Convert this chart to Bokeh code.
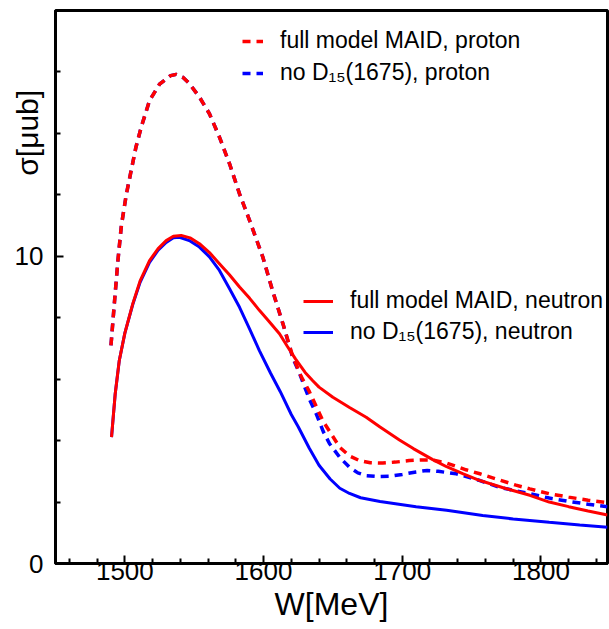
import math
from bokeh.plotting import figure
from bokeh.models import FixedTicker, Legend, LegendItem, Range1d
from bokeh.embed import file_html
from bokeh.resources import INLINE

# ---- data ----
w_proton_full = [1490, 1492.5, 1495, 1497.5, 1501, 1504.6, 1508, 1511.8, 1517.8, 1525, 1533, 1537,
                 1542, 1546.6, 1553.8, 1561, 1568.2, 1575.5, 1582.7, 1589.9, 1599.5, 1606.7, 1614,
                 1621, 1627, 1633, 1642.7, 1654.8, 1662, 1669.2, 1677, 1686, 1695, 1705, 1714, 1722,
                 1732, 1746, 1756, 1770, 1782, 1792, 1806, 1820, 1834, 1848]
s_proton_full = [7.10, 8.5, 9.86, 11.0, 12.0, 12.8, 13.55, 14.2, 15.07, 15.6, 15.88, 15.92,
                 15.82, 15.62, 15.18, 14.64, 13.88, 13.01, 12.03, 11.17, 9.97, 8.85, 7.8,
                 6.75, 6.1, 5.6, 4.65, 3.79, 3.5, 3.35, 3.28, 3.27, 3.30, 3.35, 3.37, 3.37,
                 3.27, 3.05, 2.92, 2.72, 2.55, 2.43, 2.27, 2.16, 2.06, 1.98]

w_proton_noD15 = [1490, 1492.5, 1495, 1497.5, 1501, 1504.6, 1508, 1511.8, 1517.8, 1525, 1533, 1537,
                  1542, 1546.6, 1553.8, 1561, 1568.2, 1575.5, 1582.7, 1589.9, 1599.5, 1606.7, 1614,
                  1621, 1626, 1633, 1638, 1643, 1647.6, 1655, 1662, 1668, 1674, 1683, 1691, 1700,
                  1710, 1718, 1726, 1739, 1756, 1770, 1792, 1806, 1820, 1834, 1848]
s_proton_noD15 = [7.10, 8.5, 9.86, 11.0, 12.0, 12.8, 13.55, 14.2, 15.07, 15.6, 15.88, 15.92,
                  15.82, 15.62, 15.18, 14.64, 13.88, 13.01, 12.03, 11.17, 9.97, 8.85, 7.8,
                  6.7, 6.18, 5.35, 4.87, 4.3, 3.90, 3.45, 3.13, 2.95, 2.86, 2.83, 2.84, 2.9,
                  2.98, 3.03, 3.0, 2.92, 2.70, 2.48, 2.27, 2.13, 2.02, 1.93, 1.85]

w_neutron_full = [1490.4, 1493, 1496, 1500, 1505.7, 1511, 1517.8, 1524, 1529.8, 1535, 1540.6, 1547,
                  1553.8, 1561, 1568.2, 1575.4, 1582.7, 1590, 1597, 1604, 1611.5, 1617, 1623, 1630,
                  1635.5, 1640, 1650, 1662, 1674, 1684, 1698, 1708, 1722, 1732, 1744, 1756, 1774,
                  1792, 1806, 1820, 1834, 1848]
s_neutron_full = [4.11, 5.5, 6.61, 7.5, 8.45, 9.2, 9.86, 10.25, 10.51, 10.65, 10.68, 10.6,
                  10.41, 10.12, 9.76, 9.4, 9.0, 8.63, 8.24, 7.88, 7.48, 7.08, 6.66, 6.22,
                  5.95, 5.74, 5.41, 5.08, 4.76, 4.44, 4.02, 3.74, 3.38, 3.15, 2.92, 2.70, 2.45,
                  2.22, 2.0, 1.85, 1.71, 1.58]

w_neutron_noD15 = [1490.4, 1493, 1496, 1500, 1505.7, 1511, 1517.8, 1524, 1529.8, 1535, 1539.4, 1547,
                   1553.8, 1561, 1568.2, 1575.4, 1582.7, 1590, 1597, 1605, 1612, 1620, 1625, 1633,
                   1640, 1648, 1655, 1662, 1670, 1684, 1710, 1732, 1758, 1780, 1806, 1828, 1848]
s_neutron_noD15 = [4.11, 5.5, 6.61, 7.5, 8.43, 9.15, 9.8, 10.2, 10.45, 10.6, 10.62, 10.5,
                   10.30, 9.98, 9.54, 8.95, 8.34, 7.63, 6.93, 6.2, 5.6, 4.85, 4.45, 3.75,
                   3.2, 2.75, 2.45, 2.28, 2.14, 2.02, 1.85, 1.73, 1.56, 1.45, 1.34, 1.25, 1.18]

x_major_ticks = [1500, 1600, 1700, 1800]
x_minor_ticks = [1460, 1480, 1520, 1540, 1560, 1580, 1620, 1640, 1660, 1680,
                 1720, 1740, 1760, 1780, 1820, 1840]
y_major_ticks = [0, 10]
y_minor_ticks = [2, 4, 6, 8, 12, 14, 16]

labels_proton = ["full model MAID, proton", "no D\u2081\u2085(1675), proton"]
labels_neutron = ["full model MAID, neutron", "no D\u2081\u2085(1675), neutron"]
x_title = "W[MeV]"
y_title = "\u03c3[\u03bcub]"

FONT = "Liberation Sans"
RED = "#ff0000"
BLUE = "#0000ff"

p = figure(width=609, height=629, output_backend="svg", toolbar_location=None,
           x_range=Range1d(1450, 1848), y_range=Range1d(0, 18),
           min_border_left=55, min_border_right=2, min_border_top=10, min_border_bottom=66,
           background_fill_color="white", border_fill_color="white")

p.xgrid.visible = False
p.ygrid.visible = False
p.outline_line_color = "black"
p.outline_line_width = 3

for ax in (p.xaxis[0], p.yaxis[0]):
    ax.axis_line_width = 3
    ax.axis_line_color = "black"
    ax.major_tick_in = 8
    ax.major_tick_out = 0
    ax.minor_tick_in = 5
    ax.minor_tick_out = 0
    ax.major_tick_line_width = 2
    ax.minor_tick_line_width = 2
    ax.major_tick_line_color = "black"
    ax.minor_tick_line_color = "black"
    ax.major_label_text_font = FONT
    ax.major_label_text_font_size = "26px"
    ax.major_label_text_color = "black"
    ax.axis_label_text_font = FONT
    ax.axis_label_text_font_style = "normal"
    ax.axis_label_text_color = "black"

p.xaxis[0].ticker = FixedTicker(ticks=x_major_ticks, minor_ticks=x_minor_ticks)
p.yaxis[0].ticker = FixedTicker(ticks=y_major_ticks, minor_ticks=y_minor_ticks)
p.xaxis[0].major_label_standoff = -2
p.yaxis[0].major_label_standoff = 12

p.xaxis[0].axis_label = x_title
p.xaxis[0].axis_label_text_font_size = "32px"
p.xaxis[0].axis_label_standoff = 3

# y title: leading no-break spaces push the visible text up to the upper part of the
# left side, where the reference shows it; negative standoff keeps it beside the ticks
p.yaxis[0].axis_label = "\u00a0" * 37 + y_title
p.yaxis[0].axis_label_text_font_size = "30px"
p.yaxis[0].axis_label_standoff = -32

# curves (blue first, red on top)
r_pn = p.line(w_proton_noD15, s_proton_noD15, line_color=BLUE, line_width=3.5, line_dash="8 6")
r_pf = p.line(w_proton_full, s_proton_full, line_color=RED, line_width=3.5, line_dash="8 6")
r_nn = p.line(w_neutron_noD15, s_neutron_noD15, line_color=BLUE, line_width=3)
r_nf = p.line(w_neutron_full, s_neutron_full, line_color=RED, line_width=3)

leg1 = Legend(items=[LegendItem(label=labels_proton[0], renderers=[r_pf]),
                     LegendItem(label=labels_proton[1], renderers=[r_pn])],
              location=(187, 477))
leg2 = Legend(items=[LegendItem(label=labels_neutron[0], renderers=[r_nf]),
                     LegendItem(label=labels_neutron[1], renderers=[r_nn])],
              location=(248, 218))
for lg, gw, sp in ((leg1, 21, 5), (leg2, 30, 4)):
    lg.background_fill_alpha = 0
    lg.border_line_alpha = 0
    lg.padding = 0
    lg.margin = 0
    lg.spacing = sp
    lg.glyph_width = gw
    lg.glyph_height = 26
    lg.label_height = 26
    lg.label_standoff = 17
    lg.label_text_font = FONT
    lg.label_text_font_size = "23px"
    lg.label_text_color = "black"
    p.add_layout(lg, "center")

open("out.html", "w").write(file_html(p, INLINE))
